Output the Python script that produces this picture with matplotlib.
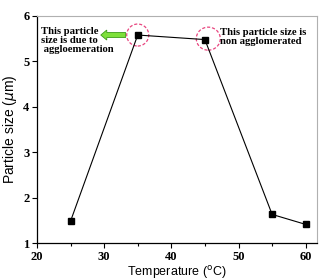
import matplotlib.pyplot as plt
from matplotlib.patches import Ellipse, FancyArrow

temps = [25, 35, 45, 55, 60]
sizes = [1.48, 5.58, 5.48, 1.63, 1.41]
x_ticks = [20, 30, 40, 50, 60]
y_ticks = [1, 2, 3, 4, 5, 6]

fig = plt.figure(figsize=(3.21, 2.80), dpi=100)
ax = fig.add_axes([0.115, 0.132, 0.873, 0.811])

ax.plot(temps, sizes, color="black", lw=0.8, marker="s", ms=4.5,
        markerfacecolor="black", markeredgecolor="black")

ax.set_xlim(20, 61.7)
ax.set_ylim(1, 6)
ax.set_xticks(x_ticks)
ax.set_xticks([25, 35, 45, 55], minor=True)
ax.set_yticks(y_ticks)

tick_font = {"family": "Liberation Serif", "weight": "bold", "size": 9}
ax.set_xticklabels([str(t) for t in x_ticks], fontdict=tick_font)
ax.set_yticklabels([str(t) for t in y_ticks], fontdict=tick_font)
ax.tick_params(which="major", direction="out", length=3.5, width=0.8, pad=2)
ax.tick_params(which="minor", direction="out", length=2, width=0.8)

for s in ["left", "bottom"]:
    ax.spines[s].set_color("black")
    ax.spines[s].set_linewidth(0.9)
for s in ["top", "right"]:
    ax.spines[s].set_color("#b0b0b0")
    ax.spines[s].set_linewidth(0.8)

ax.set_xlabel("Temperature ($^{\\rm o}$C)", family="Liberation Sans", size=9, labelpad=1)
ax.set_ylabel("Particle size ($\\mu$m)", family="Liberation Sans", size=10, labelpad=3)

# pixel scale of the axes, so the circles come out round
px_x = (61.7 - 20) / (0.873 * 321)
px_y = (6 - 1) / (0.811 * 280)

pink = "#e8457f"
ax.add_patch(Ellipse((35, 5.58), 22 * px_x, 22 * px_y, fill=False,
                     edgecolor=pink, lw=0.9, ls=(0, (2.5, 1.5))))
ax.add_patch(Ellipse((45.5, 5.5), 24 * px_x, 23 * px_y, fill=False,
                     edgecolor=pink, lw=0.9, ls=(0, (2.5, 1.5))))

ax.add_patch(FancyArrow(33.2, 5.58, -3.7, 0, width=5 * px_y,
                        head_width=10 * px_y, head_length=6 * px_x,
                        length_includes_head=True, facecolor="#7ee03a",
                        edgecolor="#3d9b1a", lw=0.6))

note_font = dict(family="Liberation Serif", weight="bold", size=7.7,
                 linespacing=1.0, va="top", ha="left")
ax.text(20.6, 5.76, "This particle\nsize is due to\n aggloemeration", **note_font)
ax.text(47.3, 5.74, "This particle size is\nnon agglomerated", **note_font)

fig.savefig("out.png", dpi=100)
